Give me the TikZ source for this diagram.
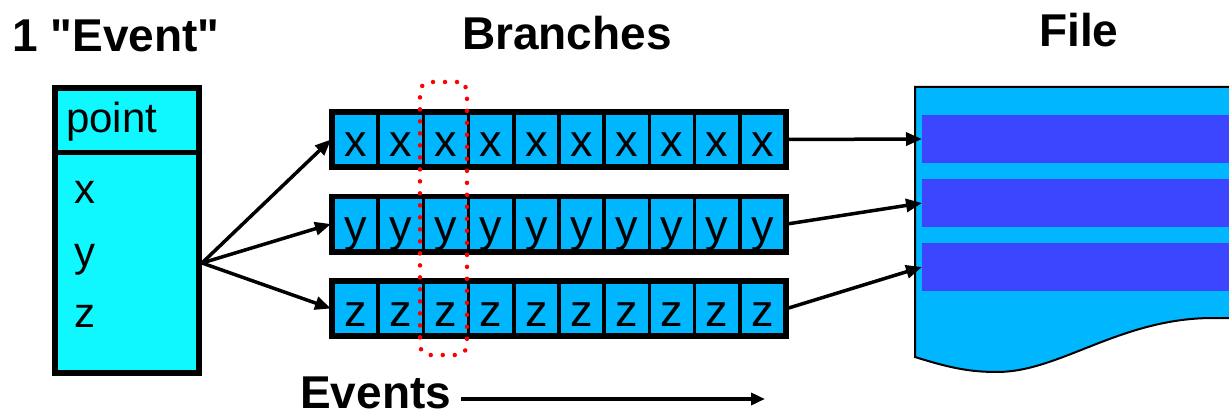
\documentclass[tikz,border=0pt]{standalone}
\usepackage{fontspec}
\setmainfont{Liberation Sans}
\newfontfamily\plainsans{Liberation Sans}
\usetikzlibrary{arrows.meta}
\definecolor{evcyan}{RGB}{16,248,255}
\definecolor{cellblue}{RGB}{0,182,255}
\definecolor{bandblue}{RGB}{60,70,255}
\tikzset{
  title/.style={font=\fontsize{46}{50}\plainsans\bfseries, anchor=base west, inner sep=0pt},
  letter/.style={font=\fontsize{42}{46}\selectfont, anchor=base west, inner sep=0pt},
  rowbox/.style={draw, line width=4pt, fill=cellblue, minimum width=452pt, minimum height=53pt, inner sep=0pt},
  cell/.style={draw, line width=3.5pt, fill=cellblue, minimum width=45.2pt, minimum height=53pt, inner sep=0pt,
    font=\fontsize{45}{49}\selectfont, text height=35pt, text depth=0pt},
  band/.style={fill=bandblue, minimum width=330pt, minimum height=48pt, inner sep=0pt, anchor=west},
  conn/.style={line width=3.5pt, -{Triangle[length=16pt,width=13pt]}},
  sel/.style={draw=red, line width=4.5pt, line cap=round, dash pattern=on 0pt off 12pt, rounded corners=10pt,
    minimum width=47pt, minimum height=273pt, inner sep=0pt}
}
\begin{document}
\begin{tikzpicture}[x=1pt,y=-1pt]
\useasboundingbox (0,0) rectangle (1229,417);
\clip (0,0) rectangle (1229,417);
% titles
\node[title] (ttl1) at (12,52) {1 "Event"};
\node[title] (ttl2) at (462,50) {Branches};
\node[title] (ttl3) at (1039,47) {File};
\node[title] (ttl4) at (300,408) {Events};
\coordinate (evend) at (765,399);
\draw[line width=3.5pt, -{Triangle[length=14pt,width=12pt]}] (ttl4.east |- evend) ++(10,0) -- (evend);
% event box
\node[draw, line width=6pt, fill=evcyan, minimum width=144pt, minimum height=285pt, inner sep=0pt] (event) at (127,230.5) {};
\draw[line width=5pt] (event.west |- 0,153) -- (event.east |- 0,153);
\node[letter] (pt) at (66,133) {point};
\node[letter] (lx) at (74,204) {x};
\node[letter] (ly) at (74,266) {y};
\node[letter] (lz) at (74,327) {z};
\coordinate (src) at (202,263);
% rows
\node[rowbox] (rowx) at (559,139.5) {};
\node[rowbox] (rowy) at (559,224) {};
\node[rowbox] (rowz) at (559,308.5) {};
\foreach \i in {1,...,10} {
  \node[cell] (x\i) at ({333+45.2*(\i-0.5)},139.5) {x};
  \node[cell] (y\i) at ({333+45.2*(\i-0.5)},224) {y};
  \node[cell] (z\i) at ({333+45.2*(\i-0.5)},308.5) {z};
}
\draw[line width=4pt] (rowx.south west) rectangle (rowx.north east);
\draw[line width=4pt] (rowy.south west) rectangle (rowy.north east);
\draw[line width=4pt] (rowz.south west) rectangle (rowz.north east);
\node[sel] (selbox) at (443.5,218.5) {};
% file
\draw[line width=2pt, fill=cellblue] (915,87) -- (1240,87) -- (1240,318) -- (1213,318)
  .. controls (1120,318) and (1060,372) .. (997,372)
  .. controls (970,372) and (950,368) .. (915,357) -- cycle;
\node[band] (band1) at (922,139) {};
\node[band] (band2) at (922,203) {};
\node[band] (band3) at (922,267) {};
% connectors
\draw[conn] (src) -- (rowx.west);
\draw[conn] (src) -- (rowy.west);
\draw[conn] (src) -- (rowz.west);
\draw[conn] (rowx.east) -- (band1.west);
\draw[conn] (rowy.east) -- (band2.west);
\draw[conn] (rowz.east) -- (band3.west);
\end{tikzpicture}
\end{document}
